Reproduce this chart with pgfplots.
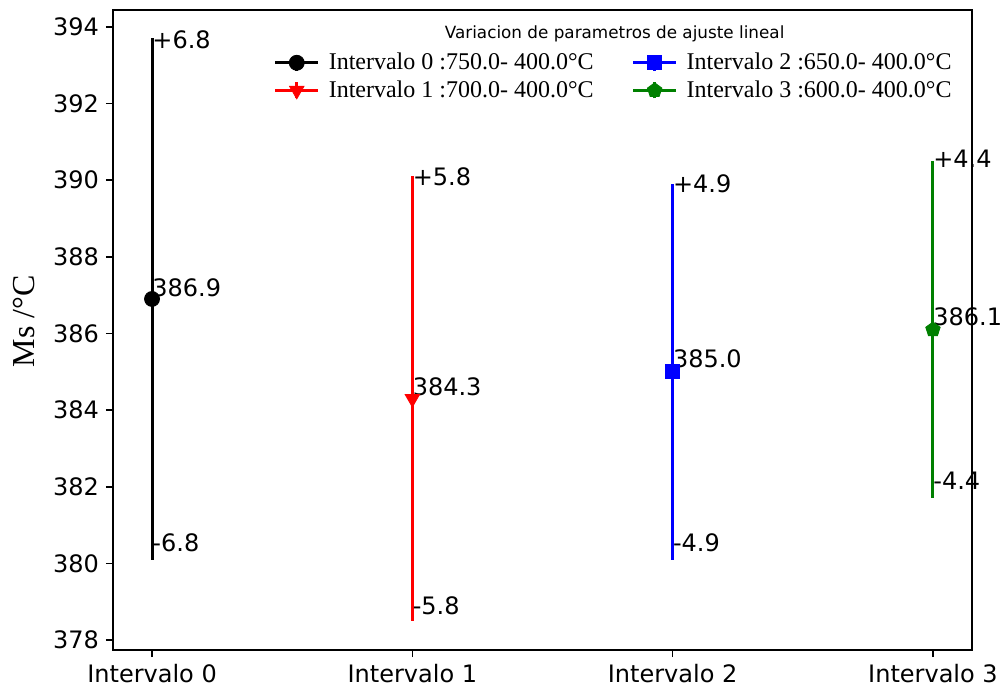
\documentclass[border=0pt]{standalone}
\usepackage{fontspec}
\setmainfont{DejaVu Sans}
\newfontfamily\serif{Liberation Serif}
\usepackage{pgfplots}
\pgfplotsset{compat=1.18}
\definecolor{mplgreen}{RGB}{0,128,0}
\tikzset{vals/.style={anchor=west, inner sep=0pt, font=\fontsize{12}{14}\selectfont}}
\begin{document}
\begin{tikzpicture}
\begin{axis}[name=ax, scale only axis, width=429.5pt, height=320pt,
 xmin=-0.15, xmax=3.15, ymin=377.74, ymax=394.44, clip=false,
 xtick={0,1,2,3}, xticklabels={Intervalo 0,Intervalo 1,Intervalo 2,Intervalo 3},
 ytick={378,380,...,394},
 tick align=outside, tick pos=left, major tick length=3.5pt,
 tick style={black, line width=0.8pt},
 axis line style={line width=0.8pt},
 ticklabel style={font=\fontsize{12}{14}\selectfont},
 /pgf/number format/assume math mode=true,
 ylabel={Ms /°C},
 ylabel style={font=\serif\fontsize{16}{19}\selectfont, at={(rel axis cs:-0.1036,0.514)}, anchor=center},
 legend columns=2,
 legend style={draw=none, fill=none, at={(0.584,0.946)}, anchor=north,
   font=\serif\fontsize{12}{14}\selectfont,
   /tikz/every odd column/.append style={column sep=2.5pt},
   /tikz/every even column/.append style={column sep=17pt}},
 legend image code/.code={
   \draw[mark=none, line width=1.5pt] (0pt,0pt) -- (21.5pt,0pt);
   \draw[mark=none, line width=1.5pt] (10.75pt,-4pt) -- (10.75pt,4pt);
   \draw plot coordinates {(10.75pt,0pt)};
 },
]
\addplot+[black, line width=1.5pt, only marks, mark=*, mark size=3.75pt, mark options={solid, fill=black, line width=0.4pt},
  error bars/.cd, y dir=both, y explicit, error mark=none, error bar style={line width=1.5pt, black}]
  coordinates {(0,386.9) +- (0,6.8)};
\addlegendentry{Intervalo 0 :750.0- 400.0°C}
\addplot+[blue, line width=1.5pt, only marks, mark=square*, mark size=3.5pt, mark options={solid, fill=blue, line width=0.4pt},
  error bars/.cd, y dir=both, y explicit, error mark=none, error bar style={line width=1.5pt, blue}]
  coordinates {(2,385.0) +- (0,4.9)};
\addlegendentry{Intervalo 2 :650.0- 400.0°C}
\addplot+[red, line width=1.5pt, only marks, mark=triangle*, mark size=4.2pt, mark options={solid, fill=red, rotate=180, line width=0.4pt},
  error bars/.cd, y dir=both, y explicit, error mark=none, error bar style={line width=1.5pt, red}]
  coordinates {(1,384.3) +- (0,5.8)};
\addlegendentry{Intervalo 1 :700.0- 400.0°C}
\addplot+[mplgreen, line width=1.5pt, only marks, mark=pentagon*, mark size=3.8pt, mark options={solid, fill=mplgreen, line width=0.4pt},
  error bars/.cd, y dir=both, y explicit, error mark=none, error bar style={line width=1.5pt, mplgreen}]
  coordinates {(3,386.1) +- (0,4.4)};
\addlegendentry{Intervalo 3 :600.0- 400.0°C}

\node[vals] at (axis cs:0,393.66) {+6.8};
\node[vals] at (axis cs:0,387.18) {386.9};
\node[vals] at (axis cs:0,380.53) {-6.8};
\node[vals] at (axis cs:1,390.08) {+5.8};
\node[vals] at (axis cs:1,384.6) {384.3};
\node[vals] at (axis cs:1,378.9) {-5.8};
\node[vals] at (axis cs:2,389.9) {+4.9};
\node[vals] at (axis cs:2,385.33) {385.0};
\node[vals] at (axis cs:2,380.53) {-4.9};
\node[vals] at (axis cs:3,390.55) {+4.4};
\node[vals] at (axis cs:3,386.43) {386.1};
\node[vals] at (axis cs:3,382.15) {-4.4};

\node[font=\fontsize{8.4}{10}\selectfont] at (rel axis cs:0.584,0.9625) {Variacion de parametros de ajuste lineal};
\end{axis}
\pgfresetboundingbox
\path ([shift={(-56.5pt,-18.5pt)}]ax.south west) rectangle ([shift={(14pt,5pt)}]ax.north east);
\end{tikzpicture}
\end{document}
